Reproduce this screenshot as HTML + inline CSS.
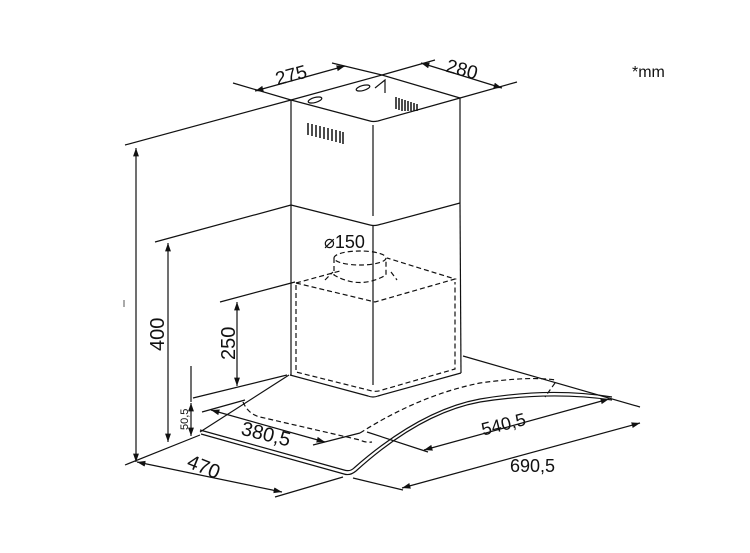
<!DOCTYPE html>
<html><head><meta charset="utf-8"><style>
html,body{margin:0;padding:0;background:#fff;}
svg{display:block;}
text{font-family:"Liberation Sans",Arial,sans-serif;fill:#111;}
</style></head><body>
<svg width="750" height="553" viewBox="0 0 750 553" xmlns="http://www.w3.org/2000/svg">
<defs>
<marker id="a" viewBox="0 0 10 10" refX="10" refY="5" markerWidth="7" markerHeight="7" orient="auto-start-reverse"><path d="M0,1.5 L10,5 L0,8.5 z" fill="#111"/></marker>
</defs>
<g stroke="#111" stroke-width="1.2" fill="none">
<!-- upper chimney -->
<path d="M291,100 L382,75 L460,98 L460,203"/>
<path d="M291,100 L291,205"/>
<path d="M291,100 L370,121 Q373,122 378,121 L460,98"/>
<path d="M373,125 L373,216"/>
<path d="M291,205 L370,225 Q374,226 378,225 L460,203"/>
<path d="M375,88 L385,80 L385,93" />
<ellipse cx="315" cy="100" rx="7" ry="2.5" transform="rotate(-15 315 100)"/>
<ellipse cx="363" cy="88" rx="7" ry="2.5" transform="rotate(-15 363 88)"/>
<!-- vents -->
<g stroke-width="1.5">
<path d="M308,123v12M312,124v12M316,125v12M320,126v12M324,127v12M328,128v12M332,129v12M336,130v12M340,131v12M343,132v12"/>
<path d="M396,97v12M399,98v12M402,99v12M405,100v11M408,101v10M411,102v9M414,103v8M417,104v7"/>
</g>
<!-- lower chimney -->
<path d="M291,205 L291,375"/>
<path d="M460,203 L461,373"/>
<path d="M373,226 L373,385"/>
<path d="M290,375 L368,396 Q373,398 378,396 L461,373"/>
<!-- dashed motor box -->
<g stroke-dasharray="5,3">
<path d="M296,283 L375,302 L455,279 L387,258"/>
<path d="M296,283 L340,271"/>
<path d="M296,285 L296,372 L372,391 Q377,392 382,390 L455,369 L455,282"/>
<ellipse cx="360" cy="258" rx="26" ry="7"/>
<path d="M334,258 L334,275 Q360,290 386,275 L386,258"/>
<path d="M325,280 L333,272 M391,272 L397,280"/>
<path d="M243,402 Q248,414 260,417 L360,440 Q366,443 372,442"/>
<path d="M360,433 Q420,395 480,383 Q530,376 556,380"/>
<path d="M555,383 L545,397"/>
</g>
<!-- canopy glass -->
<path d="M289,375 L200,432"/>
<path d="M200,430 L344,470 Q350,472 354,468 Q420,410 480,399 Q550,387 612,397"/>
<path d="M201,434 L344,474 Q350,476 356,471 Q420,413 480,402 Q550,391 612,400"/>
<path d="M463,356 L640,407"/>
<!-- dimensions -->
<path d="M233,83 L291,100 M332,63 L382,75"/>
<path d="M255,91 L345,66" marker-start="url(#a)" marker-end="url(#a)"/>
<path d="M382,75 L435,60 M460,98 L517,82"/>
<path d="M421,63 L502,88" marker-start="url(#a)" marker-end="url(#a)"/>
<path d="M125,145 L291,100 M155,242 L291,205"/>
<path d="M136,148 L136,462" marker-start="url(#a)" marker-end="url(#a)"/>
<path d="M168,243 L168,442" marker-start="url(#a)" marker-end="url(#a)"/>
<path d="M125,465 L200,435"/>
<path d="M220,302 L295,282 M193,398 L287,375"/>
<path d="M237,302 L237,386" marker-start="url(#a)" marker-end="url(#a)"/>
<path d="M191,366 L191,402"/>
<path d="M191,403 L191,436" marker-start="url(#a)" marker-end="url(#a)"/>
<path d="M202,412 L245,400"/>
<path d="M211,410 L325,442" marker-start="url(#a)" marker-end="url(#a)"/>
<path d="M313,445 L360,433"/>
<path d="M367,432 L428,452"/>
<path d="M424,450 L609,399" marker-start="url(#a)" marker-end="url(#a)"/>
<path d="M353,478 L403,490"/>
<path d="M402,488 L640,423" marker-start="url(#a)" marker-end="url(#a)"/>
<path d="M137,462 L282,492" marker-start="url(#a)" marker-end="url(#a)"/>
<path d="M275,497 L343,477"/>
</g>
<path d="M124,300 L124,307" stroke="#555" stroke-width="1"/>
<!-- labels -->
<text x="275" y="81" font-size="19" transform="rotate(-15 293 74)">275</text>
<text x="446" y="76" font-size="19" transform="rotate(15 463 70)">280</text>
<text x="324" y="248" font-size="18">⌀150</text>
<text x="0" y="0" font-size="20" transform="translate(164,351) rotate(-90)">400</text>
<text x="0" y="0" font-size="20" transform="translate(235,360) rotate(-90)">250</text>
<text x="0" y="0" font-size="11" transform="translate(188,430) rotate(-90)">50,5</text>
<text x="241" y="441" font-size="20" transform="rotate(14 267 434)">380,5</text>
<text x="481" y="430" font-size="18" transform="rotate(-14 505 424)">540,5</text>
<text x="510" y="472" font-size="18">690,5</text>
<text x="187" y="474" font-size="20" transform="rotate(22 205 467)">470</text>
<text x="632" y="77" font-size="16">*mm</text>
</svg>
</body></html>
